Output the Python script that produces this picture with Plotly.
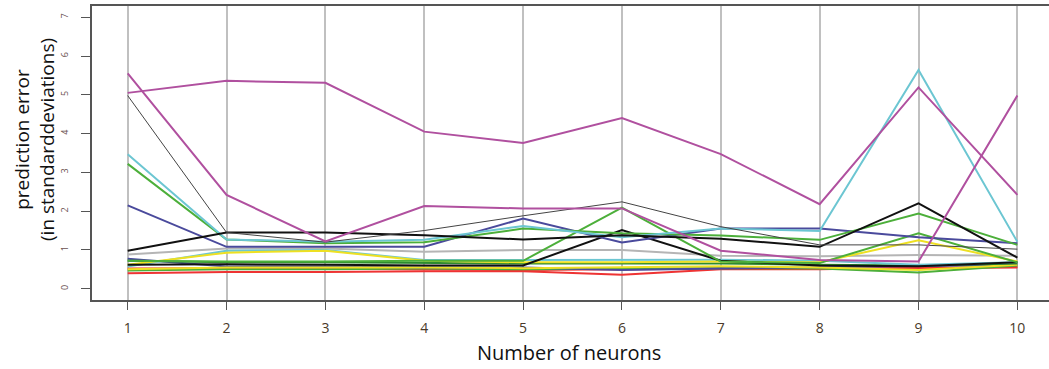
import plotly.graph_objects as go

neurons = [1, 2, 3, 4, 5, 6, 7, 8, 9, 10]
y_ticks = [0, 1, 2, 3, 4, 5, 6, 7]

# series values (prediction error, in standard deviations)
red_low      = [0.40, 0.43, 0.43, 0.45, 0.45, 0.36, 0.50, 0.50, 0.55, 0.55]
red_mid      = [0.52, 0.53, 0.52, 0.50, 0.48, 0.50, 0.52, 0.52, 0.52, 0.56]
green_low    = [0.47, 0.50, 0.50, 0.52, 0.50, 0.52, 0.53, 0.52, 0.42, 0.60]
navy_low     = [0.77, 0.57, 0.57, 0.55, 0.55, 0.48, 0.52, 0.55, 0.58, 0.62]
yellow_low   = [0.50, 0.55, 0.55, 0.55, 0.53, 0.55, 0.58, 0.55, 0.48, 0.62]
black_low    = [0.62, 0.63, 0.62, 0.60, 0.60, 1.51, 0.72, 0.60, 0.58, 0.68]
green_mid    = [0.72, 0.68, 0.68, 0.66, 0.65, 0.65, 0.65, 0.62, 0.60, 0.65]
cyan_low     = [0.57, 0.98, 1.00, 0.74, 0.74, 0.75, 0.75, 0.72, 0.62, 0.68]
yellow_mid   = [0.62, 0.93, 0.98, 0.72, 0.68, 0.68, 0.70, 0.68, 1.25, 0.70]
gray_mid     = [0.88, 1.04, 1.04, 0.95, 1.00, 1.00, 0.85, 0.84, 0.87, 0.85]
green_spike  = [0.72, 0.70, 0.70, 0.72, 0.72, 2.09, 0.70, 0.66, 1.43, 0.68]
magenta_b    = [5.55, 2.42, 1.22, 2.13, 2.07, 2.07, 0.98, 0.74, 0.70, 4.98]
magenta_a    = [5.05, 5.36, 5.31, 4.05, 3.76, 4.40, 3.47, 2.18, 5.19, 2.42]
thin_black   = [4.98, 1.45, 1.20, 1.50, 1.88, 2.24, 1.60, 1.13, 1.13, 1.02]
black_high   = [0.98, 1.45, 1.45, 1.38, 1.27, 1.38, 1.29, 1.08, 2.20, 0.80]
cyan_high    = [3.47, 1.27, 1.21, 1.26, 1.62, 1.33, 1.55, 1.49, 5.64, 1.21]
green_high   = [3.22, 1.27, 1.17, 1.20, 1.55, 1.43, 1.37, 1.26, 1.94, 1.13]
navy_high    = [2.15, 1.08, 1.08, 1.08, 1.81, 1.19, 1.55, 1.55, 1.33, 1.17]

BLACK = "#111111"
RED = "#EE3333"
GREEN = "#4CAF3A"
NAVY = "#4A4A9C"
CYAN = "#6CC6D2"
MAGENTA = "#B0509F"
YELLOW = "#EEE022"
GRAY = "#B5B5B5"

series = [
    (gray_mid, GRAY, 2),
    (red_low, RED, 2),
    (red_mid, RED, 2),
    (green_low, GREEN, 2),
    (navy_low, NAVY, 2),
    (yellow_low, YELLOW, 2),
    (green_mid, "#2E8B2E", 2),
    (cyan_low, CYAN, 2),
    (yellow_mid, YELLOW, 2),
    (black_low, BLACK, 2),
    (green_spike, GREEN, 2),
    (navy_high, NAVY, 2),
    (green_high, GREEN, 2),
    (cyan_high, CYAN, 2),
    (black_high, BLACK, 2),
    (thin_black, "#444444", 1),
    (magenta_b, MAGENTA, 2),
    (magenta_a, MAGENTA, 2),
]

fig = go.Figure()
for vals, col, w in series:
    fig.add_trace(go.Scatter(x=neurons, y=vals, mode="lines",
                             line=dict(color=col, width=w), showlegend=False,
                             hoverinfo="skip"))

FONT = "Open Sans"
fig.update_layout(
    width=1049, height=369,
    margin=dict(l=92, r=0, t=6, b=69),
    paper_bgcolor="white", plot_bgcolor="white",
    font=dict(family=FONT, color="#333333"),
)
fig.update_xaxes(
    range=[0.639, 10.32], tickmode="array", tickvals=neurons,
    ticktext=[str(v) for v in neurons],
    showgrid=True, gridcolor="#C0C0C0", gridwidth=1.5,
    showline=True, linecolor="#555555", linewidth=1.5, mirror=True,
    ticks="outside", ticklen=8, tickcolor="#555555", tickwidth=1,
    tickfont=dict(size=14, color="#4A3A2A"), ticklabelstandoff=6,
    zeroline=False,
)
fig.update_yaxes(
    range=[-0.291, 7.29], tickmode="array", tickvals=y_ticks,
    ticktext=[str(v) for v in y_ticks],
    showgrid=False, zeroline=False,
    showline=True, linecolor="#555555", linewidth=1.5,
    ticks="outside", ticklen=9, tickcolor="#555555", tickwidth=1,
    tickfont=dict(size=9, color="#6A5050"), tickangle=-90, ticklabelstandoff=10,
)
fig.add_annotation(
    text="prediction error<br>(in standarddeviations)", textangle=-90,
    xref="paper", yref="paper", x=(35 - 92) / 957, y=(300 - 140) / 294,
    xanchor="center", yanchor="middle", showarrow=False,
    font=dict(family=FONT, size=19, color="#111111"),
)
fig.add_annotation(
    text="Number of neurons",
    xref="paper", yref="paper", x=(569 - 92) / 957, y=(300 - 352) / 294,
    xanchor="center", yanchor="middle", showarrow=False,
    font=dict(family=FONT, size=20, color="#111111"),
)
fig.write_html("out.html")
